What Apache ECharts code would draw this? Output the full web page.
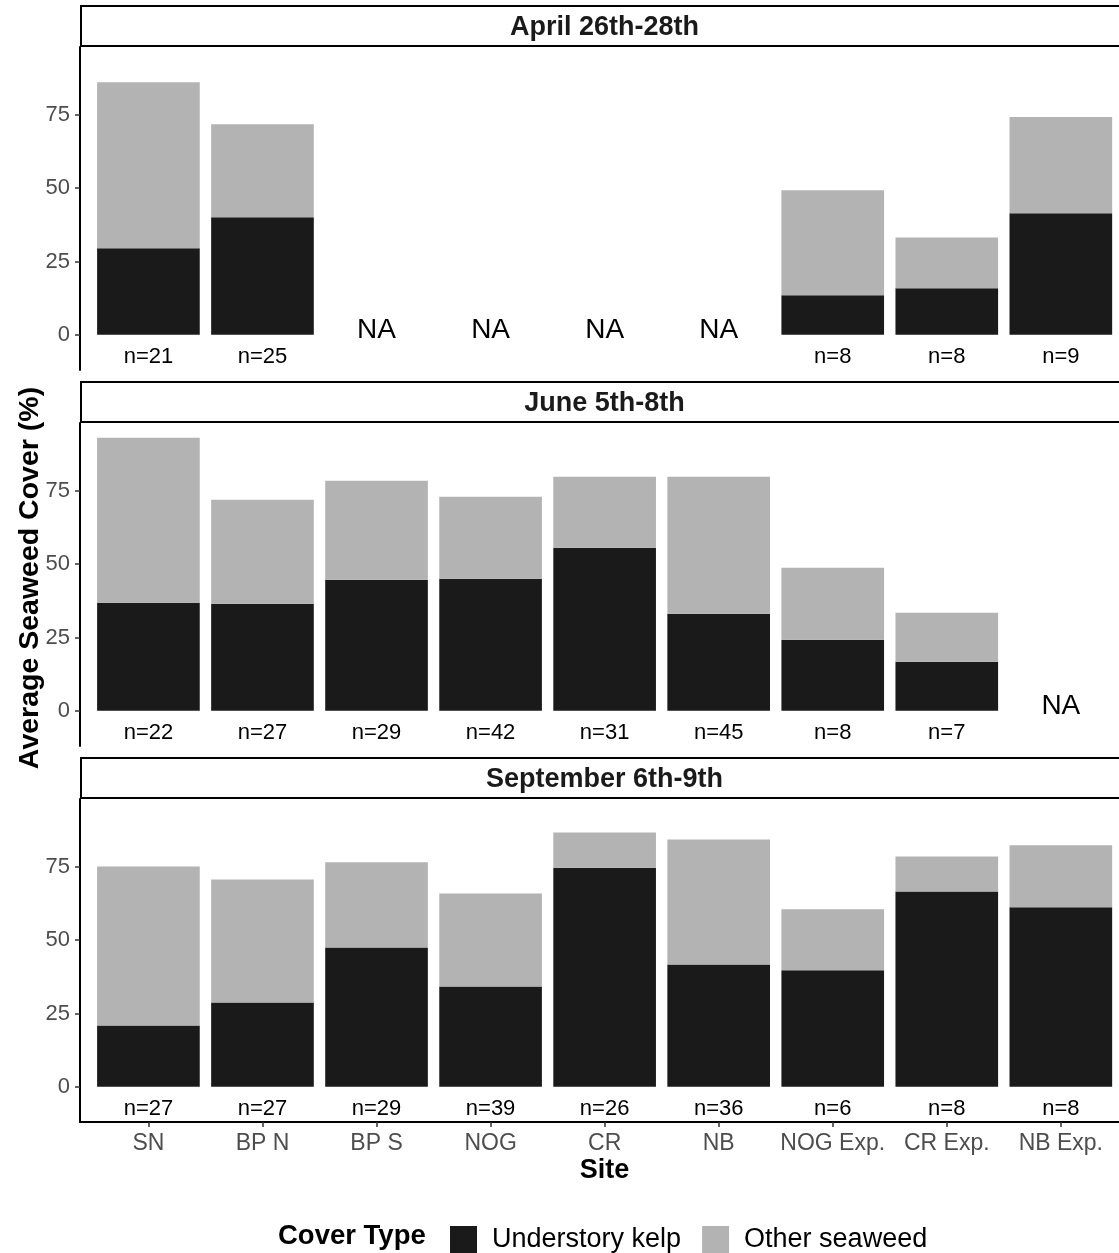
<!DOCTYPE html>
<html><head><meta charset="utf-8">
<script src="https://cdn.jsdelivr.net/npm/echarts@6/dist/echarts.min.js"></script>
<style>html,body{margin:0;padding:0;background:#fff}#c{width:1119px;height:1253px}</style>
</head><body><div id="c"></div>
<script>
// ---- data ----
const sites = ['SN','BP N','BP S','NOG','CR','NB','NOG Exp.','CR Exp.','NB Exp.'];
const panelTitles = ['April 26th-28th','June 5th-8th','September 6th-9th'];
const seriesNames = ['Understory kelp','Other seaweed'];
const yTicks = [0,25,50,75];

const aprilKelp  = [29.5,40.1,null,null,null,null,13.5,15.9,41.4];
const aprilOther = [56.6,31.7,null,null,null,null,35.8,17.3,32.8];
const aprilN     = [21,25,null,null,null,null,8,8,9];

const juneKelp  = [36.8,36.5,44.7,45.0,55.6,33.1,24.2,16.7,null];
const juneOther = [56.3,35.4,33.7,28.0,24.2,46.7,24.6,16.7,null];
const juneN     = [22,27,29,42,31,45,8,7,null];

const septKelp  = [20.9,28.7,47.5,34.2,74.7,41.7,39.7,66.6,61.2];
const septOther = [54.2,42.0,29.0,31.7,12.0,42.6,20.8,11.9,21.1];
const septN     = [27,27,29,39,26,36,6,8,8];

// ---- layout / style ----
const FONT = 'Liberation Sans, Arial, Helvetica, sans-serif';
const panels = [
  {kelp: aprilKelp, other: aprilOther, n: aprilN},
  {kelp: juneKelp, other: juneOther, n: juneN},
  {kelp: septKelp, other: septOther, n: septN}
];
const BAND = 114.05;
const GRID_LEFT = 80, GRID_W = BAND * 9.2, GRID_H = 323;
const gridTops = [47, 423, 799];
const Y_MIN = -12, Y_MAX = 98.1;
const N_LABEL_Y = -7.7, NA_LABEL_Y = 1.7;
const xs = sites.map((s,i)=>i+1);

const chart = echarts.init(document.getElementById('c'), null, {renderer:'canvas'});

const grids = [], xAxes = [], yAxes = [], series = [], graphics = [];
panels.forEach((p, pi) => {
  const isBottom = pi === 2;
  // display grid (value axes, ggplot-style 0.6 expansion)
  grids.push({left: GRID_LEFT, top: gridTops[pi], width: GRID_W, height: GRID_H,
    outerBoundsMode:'none', containLabel:false});
  // bar grid (category axis, same plotting area minus the extra 0.1 band)
  grids.push({left: GRID_LEFT + 0.1 * BAND, top: gridTops[pi], width: BAND * 9, height: GRID_H,
    outerBoundsMode:'none', containLabel:false});
  const gA = pi * 2, gB = pi * 2 + 1;
  xAxes.push({
    type:'value', gridIndex: gA, min: 0.4, max: 9.6,
    splitLine:{show:false},
    axisLine:{show:isBottom, onZero:false, lineStyle:{color:'#000', width:2}},
    axisTick:{show:isBottom, customValues: xs, length:5, lineStyle:{color:'#333', width:1.5}},
    axisLabel:{show:isBottom, customValues: xs, formatter: v => sites[Math.round(v)-1] || '',
      fontSize:23, color:'#4D4D4D', fontFamily:FONT, margin:10}
  });
  xAxes.push({type:'category', gridIndex: gB, data: sites, show:false});
  yAxes.push({
    type:'value', gridIndex: gA, min: Y_MIN, max: Y_MAX,
    splitLine:{show:false},
    axisLine:{show:true, onZero:false, lineStyle:{color:'#000', width:2}},
    axisTick:{show:true, customValues: yTicks, length:5, lineStyle:{color:'#333', width:1.5}},
    axisLabel:{show:true, customValues: yTicks, fontSize:22, color:'#4D4D4D', fontFamily:FONT, margin:10}
  });
  yAxes.push({type:'value', gridIndex: gB, min: Y_MIN, max: Y_MAX, show:false, splitLine:{show:false}});
  const nData = [], naData = [];
  xs.forEach((x, i) => {
    if (p.n[i] != null) nData.push({value:[x, N_LABEL_Y], txt:'n=' + p.n[i]});
    else naData.push({value:[x, NA_LABEL_Y], txt:'NA'});
  });
  series.push({type:'bar', name: seriesNames[0], xAxisIndex:pi*2+1, yAxisIndex:pi*2+1, stack:'s'+pi,
    barWidth:'90%', itemStyle:{color:'#1A1A1A'}, data:p.kelp.map(v => v == null ? '-' : v)});
  series.push({type:'bar', name: seriesNames[1], xAxisIndex:pi*2+1, yAxisIndex:pi*2+1, stack:'s'+pi,
    barWidth:'90%', itemStyle:{color:'#B3B3B3'}, data:p.other.map(v => v == null ? '-' : v)});
  const mkText = (arr, size) => ({
    type:'custom', xAxisIndex:pi*2, yAxisIndex:pi*2, data: arr, silent:true, clip:false,
    renderItem: (params, api) => {
      const pt = api.coord([api.value(0), api.value(1)]);
      return {type:'text', x: pt[0], y: pt[1], style:{text: arr[params.dataIndex].txt,
        fill:'#000', font: size + 'px ' + FONT, align:'center', verticalAlign:'middle'}};
    }
  });
  series.push(mkText(nData, 22));
  if (naData.length) series.push(mkText(naData, 28));
  // facet strip
  graphics.push({type:'rect', shape:{x:81, y:gridTops[pi]-41, width:1060, height:40},
    style:{fill:'#fff', stroke:'#000', lineWidth:2}, z:10});
  graphics.push({type:'text', x: 604.5, y: gridTops[pi]-19,
    style:{text: panelTitles[pi], font:'bold 27px ' + FONT, fill:'#1A1A1A', align:'center', verticalAlign:'middle'}, z:11});
});

graphics.push({type:'text', x:604.5, y:1171, style:{text:'Site', font:'bold 27px ' + FONT,
  fill:'#000', align:'center', verticalAlign:'middle'}});
graphics.push({type:'text', x:30, y:578, rotation:Math.PI/2, style:{text:'Average Seaweed Cover (%)',
  font:'bold 28.5px ' + FONT, fill:'#000', align:'center', verticalAlign:'middle'}});
graphics.push({type:'text', x:278, y:1236, style:{text:'Cover Type', font:'bold 27.5px ' + FONT,
  fill:'#000', align:'left', verticalAlign:'middle'}});

chart.setOption({
  animation:false,
  backgroundColor:'#fff',
  grid: grids, xAxis: xAxes, yAxis: yAxes, series: series,
  legend:{data: seriesNames, left:445, top:1221, itemWidth:27, itemHeight:27, itemGap:21,
    icon:'rect', selectedMode:false,
    textStyle:{fontSize:27, color:'#000', fontFamily:FONT, padding:[0,0,0,10]}},
  graphic: graphics
});
</script>
</body></html>
